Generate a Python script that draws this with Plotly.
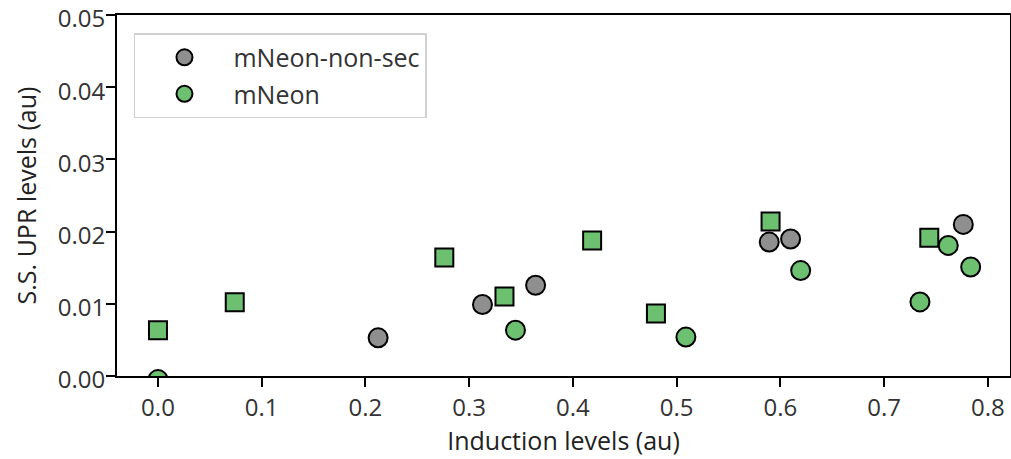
import plotly.graph_objects as go

# Data
sq_x = [0.0, 0.074, 0.276, 0.334, 0.4185, 0.480, 0.5905, 0.7435]
sq_y = [0.00635, 0.0102, 0.0164, 0.0110, 0.01878, 0.00866, 0.0214, 0.01915]

gray_x = [0.2122, 0.3128, 0.364, 0.5892, 0.6098, 0.7763]
gray_y = [0.00529, 0.0099, 0.01257, 0.01855, 0.01897, 0.0210]

green_x = [0.0, 0.3446, 0.5089, 0.6195, 0.7345, 0.7618, 0.7834]
green_y = [-0.0005, 0.00635, 0.00539, 0.0146, 0.01026, 0.01809, 0.0151]

x_ticks = [0.0, 0.1, 0.2, 0.3, 0.4, 0.5, 0.6, 0.7, 0.8]
x_labels = ["0.0", "0.1", "0.2", "0.3", "0.4", "0.5", "0.6", "0.7", "0.8"]
y_ticks = [0.0, 0.01, 0.02, 0.03, 0.04, 0.05]
y_labels = ["0.00", "0.01", "0.02", "0.03", "0.04", "0.05"]

GREEN = "#6cc070"
GRAY = "#8f8f8f"

fig = go.Figure()
fig.add_trace(go.Scatter(
    x=sq_x, y=sq_y, mode="markers", showlegend=False,
    marker=dict(symbol="square", size=18, color=GREEN, line=dict(color="black", width=2)),
))
fig.add_trace(go.Scatter(
    x=gray_x, y=gray_y, mode="markers", name="mNeon-non-sec", legendgroup="a",
    marker=dict(symbol="circle", size=19, color=GRAY, line=dict(color="black", width=2)),
))
fig.add_trace(go.Scatter(
    x=green_x, y=green_y, mode="markers", name="mNeon", legendgroup="b",
    marker=dict(symbol="circle", size=19, color=GREEN, line=dict(color="black", width=2)),
))

axis_common = dict(
    showline=True, linecolor="black", linewidth=2, mirror=True,
    ticks="outside", ticklen=9, tickwidth=2, tickcolor="black",
    showgrid=False, zeroline=False, automargin=False,
    ticklabeloverflow="allow",
    tickfont=dict(size=24, color="#333333"),
)

fig.update_layout(
    template="none",
    width=1011, height=459,
    margin=dict(l=117, r=1, t=15, b=83),
    plot_bgcolor="white", paper_bgcolor="white",
    font=dict(family="Open Sans", color="#222222"),
    xaxis=dict(range=[-0.0395, 0.8213], tickvals=x_ticks, ticktext=x_labels,
               title=dict(text="Induction levels (au)", font=dict(size=25), standoff=4),
               **axis_common),
    yaxis=dict(range=[0, 0.05], tickvals=y_ticks, ticktext=y_labels,
               ticklabelstandoff=-4, ticklabelshift=4,
               title=dict(text="S.S. UPR levels (au)", font=dict(size=25), standoff=14),
               **axis_common),
    legend=dict(x=0.019, y=0.95, xanchor="left", yanchor="top",
                bordercolor="#d0d0d0", borderwidth=1.5, bgcolor="white",
                font=dict(size=25, color="#333333"), itemwidth=88,
                tracegroupgap=1, traceorder="grouped"),
)

fig.write_html("out.html", config={"displayModeBar": False},
               post_script="document.body.style.margin='0';")
